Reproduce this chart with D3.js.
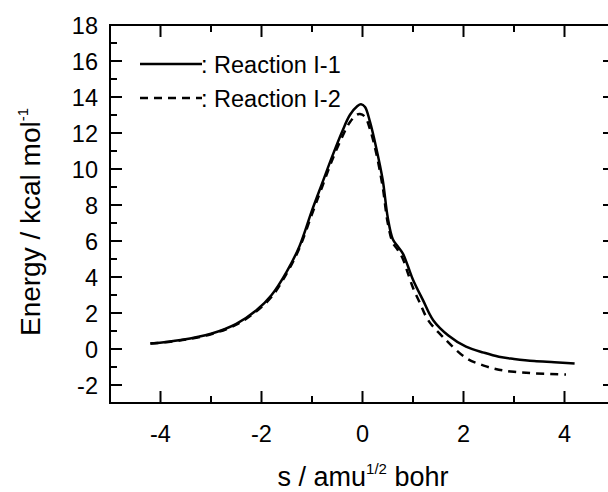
<!DOCTYPE html>
<html>
<head>
<meta charset="utf-8">
<script src="https://cdn.jsdelivr.net/npm/d3@7"></script>
<style>
  html, body { margin: 0; padding: 0; background: #fff; }
  svg { display: block; }
  text { font-family: "Liberation Sans", Arial, sans-serif; fill: #000; }
</style>
</head>
<body>
<svg id="chart" width="608" height="492"></svg>
<script>
// ---- data ----
const s1 = [-4.2, -3.6, -3.0, -2.5, -2.1, -1.8, -1.5, -1.25, -1.0, -0.8, -0.6, -0.4, -0.25, -0.1, -0.03, 0.05, 0.15, 0.27, 0.4, 0.5, 0.6, 0.7, 0.8, 0.9, 1.0, 1.2, 1.4, 1.7, 2.05, 2.4, 2.7, 3.0, 3.4, 3.8, 4.2];
const e1 = [0.3, 0.5, 0.85, 1.4, 2.15, 3.0, 4.3, 5.7, 7.7, 9.2, 10.7, 12.1, 13.0, 13.5, 13.6, 13.45, 12.6, 11.2, 9.4, 7.3, 6.1, 5.7, 5.3, 4.6, 3.85, 2.7, 1.6, 0.75, 0.13, -0.2, -0.43, -0.55, -0.67, -0.73, -0.8];
const s2 = [-4.2, -3.6, -3.0, -2.5, -2.1, -1.8, -1.5, -1.25, -1.0, -0.8, -0.6, -0.4, -0.25, -0.12, -0.05, 0.05, 0.15, 0.27, 0.4, 0.5, 0.6, 0.7, 0.8, 0.9, 1.0, 1.13, 1.3, 1.6, 2.05, 2.4, 2.7, 3.0, 3.4, 4.03];
const e2 = [0.3, 0.48, 0.82, 1.35, 2.1, 2.9, 4.2, 5.6, 7.5, 9.0, 10.5, 11.8, 12.6, 13.0, 13.05, 12.9, 12.2, 10.9, 9.0, 7.0, 5.9, 5.5, 5.0, 4.2, 3.4, 2.6, 1.6, 0.65, -0.5, -0.92, -1.15, -1.27, -1.35, -1.42];
const seriesNames = ["Reaction I-1", "Reaction I-2"];
const xMajorTicks = [-4, -2, 0, 2, 4];
const xMinorTicks = [-5, -3, -1, 1, 3, 5];
const yMajorTicks = [-2, 0, 2, 4, 6, 8, 10, 12, 14, 16, 18];
const yMinorTicks = [-3, -1, 1, 3, 5, 7, 9, 11, 13, 15, 17];

// ---- layout ----
const svg = d3.select("#chart");
const pLeft = 110, pRight = 615, pTop = 25, pBottom = 403;
const x = d3.scaleLinear().domain([-5, 5]).range([pLeft, pRight]);
const y = d3.scaleLinear().domain([-3, 18]).range([pBottom, pTop]);
const major = 12, minor = 7;

// curves
const line = d3.line().x(d => x(d[0])).y(d => y(d[1])).curve(d3.curveCatmullRom.alpha(0.5));
const d1 = s1.map((v, i) => [v, e1[i]]);
const d2 = s2.map((v, i) => [v, e2[i]]);

svg.append("path").attr("d", line(d2)).attr("fill", "none").attr("stroke", "#000")
  .attr("stroke-width", 2.5).attr("stroke-dasharray", "8,6");
svg.append("path").attr("d", line(d1)).attr("fill", "none").attr("stroke", "#000")
  .attr("stroke-width", 2.5);

// frame
svg.append("rect").attr("x", pLeft).attr("y", pTop).attr("width", pRight - pLeft).attr("height", pBottom - pTop)
  .attr("fill", "none").attr("stroke", "#000").attr("stroke-width", 2);

// ticks
const g = svg.append("g").attr("stroke", "#000").attr("stroke-width", 2);
function xt(vals, len) {
  vals.forEach(v => {
    g.append("line").attr("x1", x(v)).attr("x2", x(v)).attr("y1", pBottom).attr("y2", pBottom - len);
    g.append("line").attr("x1", x(v)).attr("x2", x(v)).attr("y1", pTop).attr("y2", pTop + len);
  });
}
function yt(vals, len) {
  vals.forEach(v => {
    g.append("line").attr("x1", pLeft).attr("x2", pLeft + len).attr("y1", y(v)).attr("y2", y(v));
    g.append("line").attr("x1", pRight).attr("x2", pRight - len).attr("y1", y(v)).attr("y2", y(v));
  });
}
xt(xMajorTicks, major); xt(xMinorTicks, minor);
yt(yMajorTicks, major); yt(yMinorTicks, minor);

// tick labels
svg.append("g").selectAll("text").data(xMajorTicks).join("text")
  .attr("x", d => x(d)).attr("y", 442).attr("text-anchor", "middle")
  .attr("font-size", 23.5).text(d => d);
svg.append("g").selectAll("text").data(yMajorTicks).join("text")
  .attr("x", 98).attr("y", d => y(d) + 8.5).attr("text-anchor", "end")
  .attr("font-size", 23.5).text(d => d);

// axis titles
const xTitle = svg.append("text").attr("x", 363).attr("y", 486).attr("text-anchor", "middle").attr("font-size", 27);
xTitle.append("tspan").text("s / amu");
xTitle.append("tspan").attr("font-size", 15).attr("dy", -12).text("1/2");
xTitle.append("tspan").attr("dy", 12).text(" bohr");

const yTitle = svg.append("text").attr("transform", "translate(40,222) rotate(-90)").attr("text-anchor", "middle").attr("font-size", 28);
yTitle.append("tspan").text("Energy / kcal mol");
yTitle.append("tspan").attr("font-size", 15).attr("dy", -12).text("-1");

// legend
const legY = [64, 98];
legY.forEach((ly, i) => {
  svg.append("line").attr("x1", 140).attr("x2", 202).attr("y1", ly).attr("y2", ly)
    .attr("stroke", "#000").attr("stroke-width", 2.5)
    .attr("stroke-dasharray", i === 1 ? "8,6" : null);
  svg.append("text").attr("x", 201).attr("y", ly + 8.5).attr("font-size", 23.5).text(": " + seriesNames[i]);
});
</script>
</body>
</html>
